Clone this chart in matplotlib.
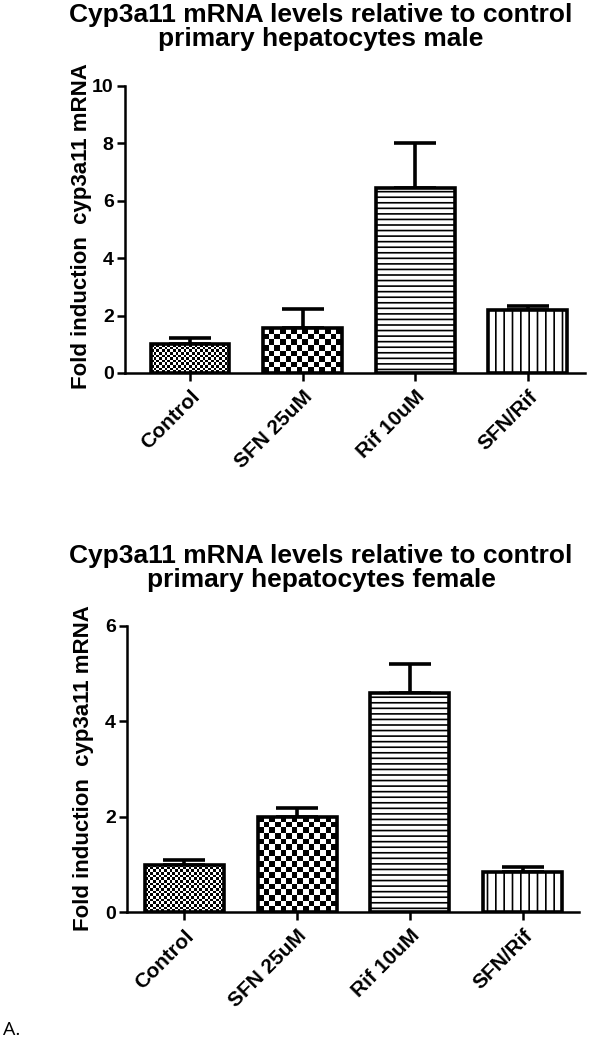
import numpy as np
import matplotlib.pyplot as plt

plt.rcParams['font.family'] = ['Liberation Sans', 'DejaVu Sans']
plt.rcParams['font.weight'] = 'bold'
plt.rcParams['hatch.linewidth'] = 1.2

groups = ['Control', 'SFN 25uM', 'Rif 10uM', 'SFN/Rif']
male_mean = [1.0, 1.55, 6.43, 2.18]
male_err = [0.22, 0.68, 1.57, 0.15]
female_mean = [0.99, 2.0, 4.6, 0.84]
female_err = [0.11, 0.19, 0.6, 0.11]

# fill style per group: ('checker', cell px) or ('hatch', pattern)
fills = [('checker', 2.7), ('checker', 5.6), ('hatch', '---'), ('hatch', '||')]


def checker(ax, bar, cell):
    ext = bar.get_window_extent()
    nx = max(1, int(round(ext.width / cell)))
    ny = max(1, int(round(ext.height / cell)))
    pat = (np.add.outer(np.arange(ny), np.arange(nx)) % 2).astype(float)
    x0, y0 = bar.get_x(), bar.get_y()
    im = ax.imshow(pat, cmap='gray', interpolation='nearest', aspect='auto',
                   extent=[x0, x0 + bar.get_width(), y0, y0 + bar.get_height()],
                   origin='lower', zorder=2, vmin=0, vmax=1)
    im.set_clip_path(bar)


def panel(fig, rect, mean, err, ymax, xlim, title, title_xy, ylab_xy):
    ax = fig.add_axes(rect)
    x = np.arange(len(groups))
    ax.set_xlim(*xlim)
    ax.set_ylim(0, ymax)
    bars = ax.bar(x, mean, width=0.7, facecolor='white', edgecolor='black',
                  linewidth=2.6, zorder=3)
    for b, (kind, val) in zip(bars, fills):
        if kind == 'hatch':
            b.set_hatch(val)
        else:
            b.set_facecolor('none')
            checker(ax, b, val)
    ax.errorbar(x, mean, yerr=[np.zeros(len(err)), err], fmt='none',
                ecolor='black', elinewidth=2.6, capsize=15, capthick=2.6, zorder=1)
    for s in ['top', 'right']:
        ax.spines[s].set_visible(False)
    for s in ['left', 'bottom']:
        ax.spines[s].set_linewidth(1.8)
    ax.set_yticks(np.arange(0, ymax + 1, 2))
    ax.set_xticks(x)
    ax.set_xticklabels(groups, rotation=45, ha='right', rotation_mode='anchor',
                       fontsize=15, fontweight='bold')
    ax.tick_params(axis='both', width=1.8, length=6)
    ax.tick_params(axis='y', pad=2, labelsize=14)
    ax.tick_params(axis='x', pad=4)
    fig.text(title_xy[0], title_xy[1], title, ha='center', va='top',
             fontsize=19, fontweight='bold', linespacing=1.0)
    fig.text(ylab_xy[0], ylab_xy[1], 'Fold induction  cyp3a11 mRNA', rotation=90,
             ha='center', va='center', fontsize=16, fontweight='bold')
    return ax


fig = plt.figure(figsize=(6.12, 10.5), dpi=100)
panel(fig, [0.204, 0.6448, 0.752, 0.2733], male_mean, male_err, 10, (-0.58, 3.51),
      'Cyp3a11 mRNA levels relative to control\nprimary hepatocytes male',
      (321 / 612, 1 - 3 / 1050), (82 / 612, 1 - 226 / 1050))
panel(fig, [0.2075, 0.1311, 0.7386, 0.273], female_mean, female_err, 6, (-0.51, 3.5),
      'Cyp3a11 mRNA levels relative to control\nprimary hepatocytes female',
      (321 / 612, 1 - 544 / 1050), (84 / 612, 1 - 768 / 1050))
fig.text(3 / 612, 1 - 1030 / 1050, 'A.', fontsize=14, fontweight='normal',
         family=['Open Sans', 'DejaVu Sans'], va='center')

fig.savefig('out.png', dpi=100)
